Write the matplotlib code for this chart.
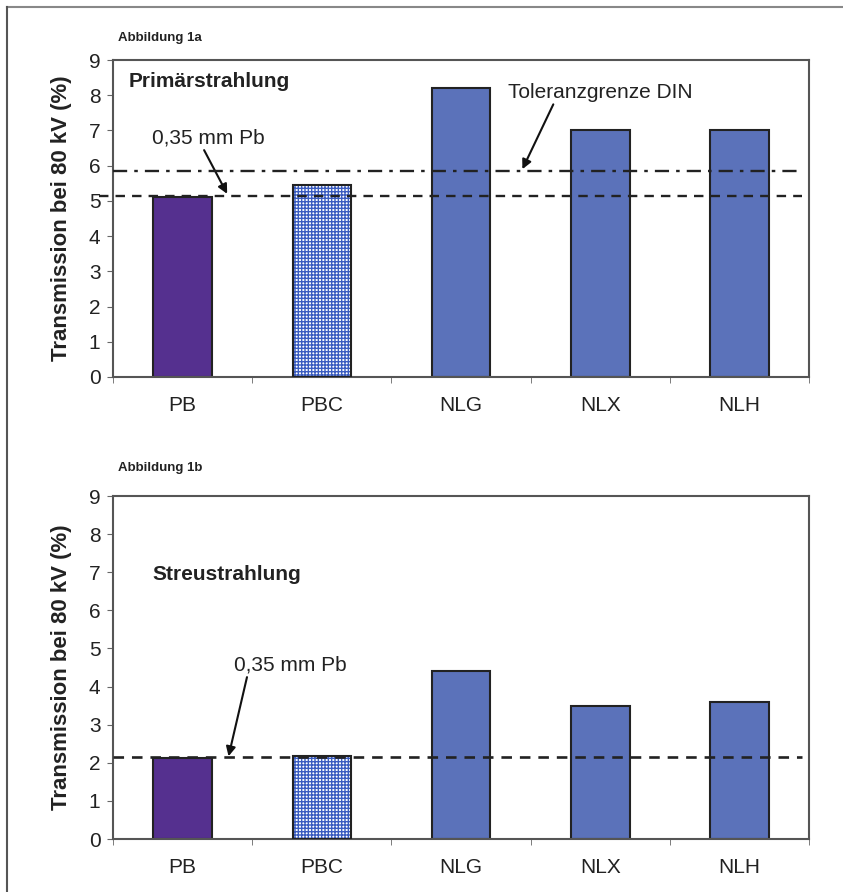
import numpy as np
import matplotlib.pyplot as plt
from matplotlib.lines import Line2D

plt.rcParams['font.family'] = ['Liberation Sans', 'DejaVu Sans']

labels = ['PB', 'PBC', 'NLG', 'NLX', 'NLH']
primaer = [5.1, 5.45, 8.2, 7.0, 7.0]
streu = [2.13, 2.18, 4.41, 3.48, 3.59]

pb_primaer = 5.15     # 0,35 mm Pb
din_primaer = 5.85    # Toleranzgrenze DIN
pb_streu = 2.15

ind = np.arange(len(labels))
width = 0.42
c_pb = '#55308f'
c_nl = '#5b72ba'
c_pbc = '#3a5cc0'
edge = '#222222'

fig = plt.figure(figsize=(8.43, 8.92), dpi=100)
ax1 = fig.add_axes([0.134, 0.5774, 0.826, 0.3553])
ax2 = fig.add_axes([0.134, 0.0594, 0.826, 0.3845])


def draw(ax, vals):
    ax.bar(ind[0], vals[0], width, color=c_pb, edgecolor=edge, linewidth=1.5, zorder=2)
    # PBC: weisses Muster mit blauem Gitter
    ax.bar(ind[1], vals[1], width, color='white', edgecolor=c_pbc, linewidth=0,
           hatch='+++++', zorder=2)
    ax.bar(ind[1], vals[1], width, color='none', edgecolor=edge, linewidth=1.5, zorder=3)
    ax.bar(ind[2:], vals[2:], width, color=c_nl, edgecolor=edge, linewidth=1.5, zorder=2)

    ax.set_xlim(-0.5, 4.5)
    ax.set_ylim(0, 9)
    ax.set_yticks(range(10))
    ax.set_xticks(ind)
    ax.set_xticklabels(labels, fontsize=15, color='#222222')
    ax.set_xticks(np.arange(-0.5, 5, 1), minor=True)
    ax.tick_params(axis='x', which='major', length=0, pad=14)
    ax.tick_params(axis='x', which='minor', length=4, direction='out', color='#666666')
    ax.tick_params(axis='y', length=4, pad=5, labelsize=15, color='#666666', labelcolor='#222222')
    for s in ax.spines.values():
        s.set_color('#555555')
        s.set_linewidth(1.5)
    ax.set_ylabel('Transmission bei 80 kV (%)', fontsize=16, fontweight='bold', color='#222222')
    ax.yaxis.set_label_coords(-0.059, 0.5)


plt.rcParams['hatch.linewidth'] = 1.0

draw(ax1, primaer)
ax1.axhline(pb_primaer, xmin=-0.02, xmax=0.99, color='#222222', linestyle=(0, (4, 3)),
            linewidth=1.7, clip_on=False, zorder=4)
ax1.axhline(din_primaer, xmin=0, xmax=0.985, color='#222222', linestyle=(0, (6, 3, 1.5, 3)),
            linewidth=1.7, zorder=4)
ax1.text(-0.39, 8.38, 'Primärstrahlung', fontsize=15, fontweight='bold', va='center', color='#222222')
ax1.annotate('0,35 mm Pb', xy=(0.32, pb_primaer + 0.05), xytext=(-0.22, 6.79),
             fontsize=15, va='center', color='#222222',
             arrowprops=dict(arrowstyle='-|>', color='#111111', lw=1.5,
                             shrinkA=0, shrinkB=0, mutation_scale=14,
                             relpos=(0.45, 0)))
ax1.annotate('Toleranzgrenze DIN', xy=(2.44, din_primaer + 0.05), xytext=(2.34, 8.09),
             fontsize=15, va='center', color='#222222',
             arrowprops=dict(arrowstyle='-|>', color='#111111', lw=1.5,
                             shrinkA=0, shrinkB=0, mutation_scale=14,
                             relpos=(0.25, 0)))

draw(ax2, streu)
ax2.axhline(pb_streu, xmin=0, xmax=0.99, color='#222222', linestyle=(0, (4, 3)),
            linewidth=1.9, zorder=4)
ax2.text(-0.22, 6.95, 'Streustrahlung', fontsize=15, fontweight='bold', va='center', color='#222222')
ax2.annotate('0,35 mm Pb', xy=(0.33, pb_streu + 0.02), xytext=(0.37, 4.57),
             fontsize=15, va='center', color='#222222',
             arrowprops=dict(arrowstyle='-|>', color='#111111', lw=1.5,
                             shrinkA=0, shrinkB=0, mutation_scale=14,
                             relpos=(0.12, 0)))

fig.text(0.140, 0.957, 'Abbildung 1a', fontsize=9.5, fontweight='bold', va='center', color='#222222')
fig.text(0.140, 0.4753, 'Abbildung 1b', fontsize=9.5, fontweight='bold', va='center', color='#222222')

# Rahmen oben und links
fig.add_artist(Line2D([7 / 843, 1], [1 - 7 / 892, 1 - 7 / 892], transform=fig.transFigure,
                      color='#888888', linewidth=1.5))
fig.add_artist(Line2D([7 / 843, 7 / 843], [0, 1 - 7 / 892], transform=fig.transFigure,
                      color='#555555', linewidth=1.5))

fig.savefig('out.png', dpi=100)
